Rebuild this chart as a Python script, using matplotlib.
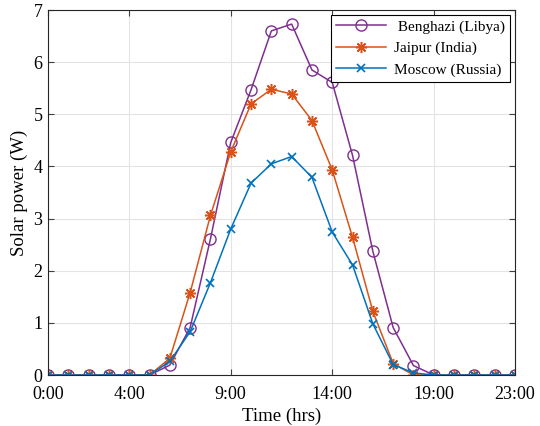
import matplotlib.pyplot as plt

hours = list(range(24))
tick_hours = [0, 4, 9, 14, 19, 23]
tick_labels = ["0:00", "4:00", "9:00", "14:00", "19:00", "23:00"]

benghazi = [0, 0, 0, 0, 0, 0, 0.19, 0.91, 2.61, 4.46, 5.47, 6.60, 6.73, 5.85,
            5.61, 4.21, 2.37, 0.91, 0.18, 0, 0, 0, 0, 0]
jaipur = [0, 0, 0, 0, 0, 0, 0.32, 1.58, 3.06, 4.28, 5.20, 5.48, 5.39, 4.88,
          3.93, 2.64, 1.22, 0.22, 0, 0, 0, 0, 0, 0]
moscow = [0, 0, 0, 0, 0, 0, 0.26, 0.83, 1.77, 2.80, 3.68, 4.05, 4.19, 3.79,
          2.74, 2.11, 0.98, 0.20, 0.04, 0, 0, 0, 0, 0]

plt.rcParams['font.family'] = ['Liberation Serif', 'DejaVu Serif']

fig = plt.figure(figsize=(5.4, 4.26), dpi=100)
ax = fig.add_axes([0.0889, 0.1197, 0.8648, 0.8568])

# matlab-like asterisk: 8 spokes
star = (8, 2, 0)

ax.plot(hours, benghazi, color='#7E2F8E', marker='o', markersize=8,
        markerfacecolor='none', linewidth=1.1, label=' Benghazi (Libya)')
ax.plot(hours, jaipur, color='#D95319', marker=star, markersize=8,
        markeredgewidth=1.1, linewidth=1.1, label='Jaipur (India)')
ax.plot(hours, moscow, color='#0072BD', marker='x', markersize=6,
        markeredgewidth=1.2, linewidth=1.1, label='Moscow (Russia)')

ax.set_xlim(0, 23)
ax.set_ylim(0, 7)
ax.set_xticks(tick_hours)
ax.set_xticklabels(tick_labels)
ax.set_yticks(range(8))
ax.grid(True, color='#e3e3e3', linewidth=0.8)
ax.set_axisbelow(True)
ax.tick_params(direction='in', top=True, right=True, length=4, width=0.8,
               labelsize=13, colors='#404040', labelcolor='black')
ax.tick_params(axis='x', pad=8)
ax.tick_params(axis='y', pad=4)
for s in ax.spines.values():
    s.set_color('#262626')
    s.set_linewidth(0.8)

ax.set_xlabel('Time (hrs)', fontsize=13.5, labelpad=3)
ax.set_ylabel('Solar power (W)', fontsize=13.5, labelpad=4)

leg = ax.legend(loc='upper right', fontsize=11, fancybox=False, framealpha=1,
                edgecolor='black', handlelength=3.3, borderaxespad=0.3,
                labelspacing=0.5, borderpad=0.35, handletextpad=0.5)
leg.get_frame().set_linewidth(0.8)

fig.savefig('out.png', dpi=100)
